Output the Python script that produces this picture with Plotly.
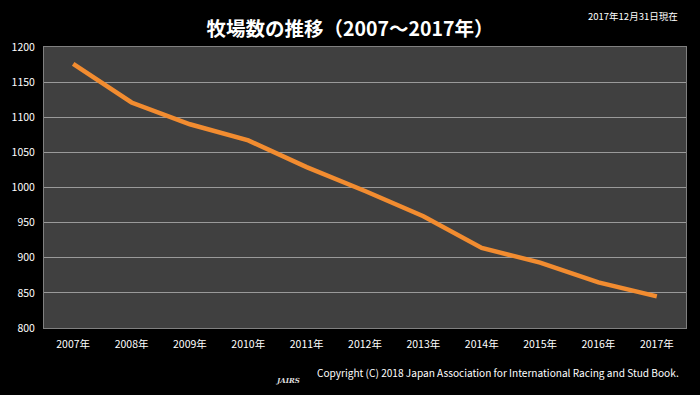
import plotly.graph_objects as go

years = ["2007年", "2008年", "2009年", "2010年", "2011年", "2012年",
         "2013年", "2014年", "2015年", "2016年", "2017年"]
farms = [1176, 1121, 1090, 1067, 1029, 995, 959, 914, 893, 865, 845]
y_ticks = [800, 850, 900, 950, 1000, 1050, 1100, 1150, 1200]

FONT = "Noto Sans CJK JP"

fig = go.Figure()
fig.add_trace(go.Scatter(
    x=years, y=farms, mode="lines",
    line=dict(color="#F28C30", width=4.5),
    hoverinfo="skip", showlegend=False,
))

fig.update_layout(
    width=700, height=395,
    paper_bgcolor="#000000",
    plot_bgcolor="#404040",
    margin=dict(l=44, r=14, t=47, b=67),
    font=dict(family=FONT, color="#FFFFFF", size=10.5),
    title=dict(text="<b>牧場数の推移（2007～2017年）</b>",
               x=0.5, xanchor="center", y=0.925, yanchor="middle",
               font=dict(size=19.5, color="#FFFFFF", family=FONT)),
    xaxis=dict(type="category", range=[-0.5, 10.5],
               showgrid=False, ticks="", showline=True, linecolor="#808080",
               linewidth=1, mirror=True,
               tickfont=dict(size=10.5, color="#FFFFFF"), ticklabelstandoff=6),
    yaxis=dict(range=[800, 1200], tickvals=y_ticks, showgrid=True,
               gridcolor="#9A9A9A", gridwidth=1, zeroline=False,
               showline=True, linecolor="#808080", linewidth=1, mirror=True,
               ticks="", tickfont=dict(size=10.5, color="#FFFFFF"),
               ticklabelstandoff=6),
)

fig.add_annotation(text="2017年12月31日現在", xref="paper", yref="paper",
                   x=1.0, y=1.0, xanchor="right", yanchor="bottom",
                   yshift=22, xshift=-6, showarrow=False,
                   font=dict(size=9.5, color="#FFFFFF", family=FONT))
fig.add_annotation(text="Copyright (C) 2018 Japan Association for International Racing and Stud Book.",
                   xref="paper", yref="paper", x=1.0, y=0, xanchor="right",
                   yanchor="top", yshift=-35, xshift=-5, showarrow=False,
                   font=dict(size=10.1, color="#FFFFFF", family=FONT))
fig.add_annotation(text="<i><b>JAIRS</b></i>", xref="paper", yref="paper",
                   x=0.38, y=0, xanchor="center", yanchor="top",
                   yshift=-46, showarrow=False,
                   font=dict(size=7, color="#DDDDDD", family="DejaVu Serif"))

fig.write_html("out.html", config={"displayModeBar": False},
               post_script="document.body.style.margin='0';"
                           "document.body.style.background='#000';")
